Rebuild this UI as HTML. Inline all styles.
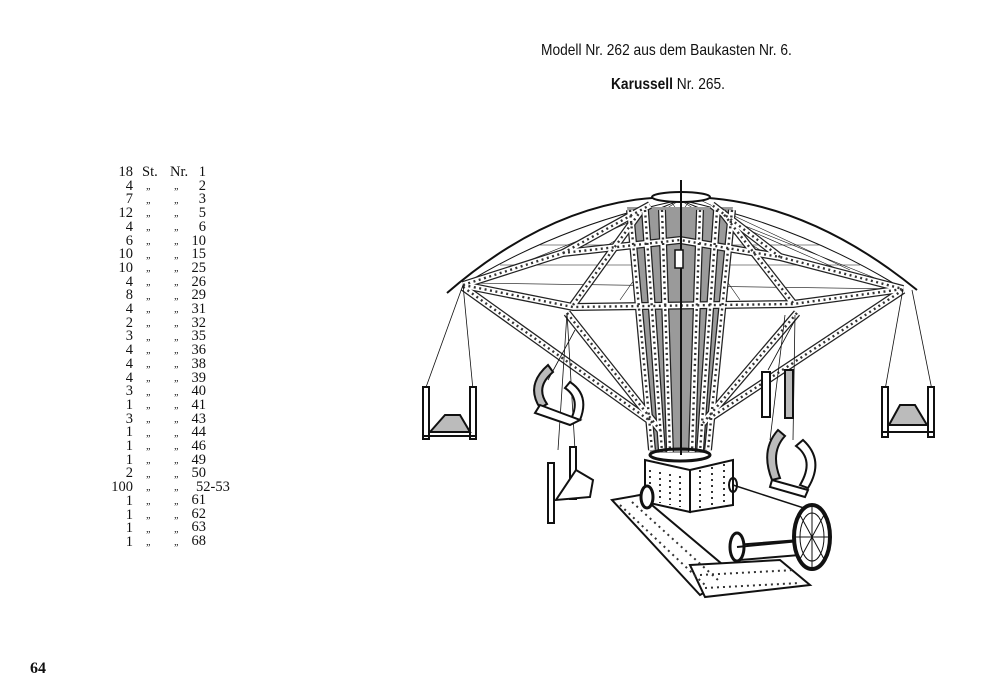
<!DOCTYPE html>
<html><head><meta charset="utf-8"><style>
html,body{margin:0;padding:0;background:#fff}
body{width:1000px;height:700px;position:relative;overflow:hidden;font-family:"Liberation Serif",serif;color:#111}
.t{position:absolute;white-space:nowrap;font-family:"Liberation Sans",sans-serif;font-size:16px;transform-origin:0 0;transform:scaleX(0.86)}
.r{position:absolute;font-size:14.5px;line-height:13.7px;white-space:nowrap}
.d{position:absolute;font-size:10px;line-height:13.7px;white-space:nowrap;font-style:italic}
</style></head><body>
<div class="t" style="left:541px;top:42px">Modell Nr. 262 aus dem Baukasten Nr. 6.</div>
<div class="t" style="left:611px;top:76px"><b>Karussell</b> Nr. 265.</div>
<div style="position:absolute;left:30px;top:660px;font-weight:bold;font-size:16px">64</div>

<div class="r" style="left:96px;top:166px;width:37px;text-align:right">18<br>4<br>7<br>12<br>4<br>6<br>10<br>10<br>4<br>8<br>4<br>2<br>3<br>4<br>4<br>4<br>3<br>1<br>3<br>1<br>1<br>1<br>2<br>100<br>1<br>1<br>1<br>1</div>
<div class="r" style="left:142px;top:166px">St.</div>
<div class="d" style="left:146px;top:180px">„<br>„<br>„<br>„<br>„<br>„<br>„<br>„<br>„<br>„<br>„<br>„<br>„<br>„<br>„<br>„<br>„<br>„<br>„<br>„<br>„<br>„<br>„<br>„<br>„<br>„<br>„</div>
<div class="r" style="left:170px;top:166px">Nr.</div>
<div class="d" style="left:174px;top:180px">„<br>„<br>„<br>„<br>„<br>„<br>„<br>„<br>„<br>„<br>„<br>„<br>„<br>„<br>„<br>„<br>„<br>„<br>„<br>„<br>„<br>„<br>„<br>„<br>„<br>„<br>„</div>
<div class="r" style="left:190px;top:166px;width:16px;text-align:right">1<br>2<br>3<br>5<br>6<br>10<br>15<br>25<br>26<br>29<br>31<br>32<br>35<br>36<br>38<br>39<br>40<br>41<br>43<br>44<br>46<br>49<br>50</div>
<div class="r" style="left:196px;top:481px">52-53</div>
<div class="r" style="left:190px;top:494px;width:16px;text-align:right">61<br>62<br>63<br>68</div>

<svg width="1000" height="700" style="position:absolute;left:0;top:0" fill="none" stroke="#111">
<defs>
<g id="strips">
 <path d="M463,285 L573,307 L793,304 L903,289"/>
 <path d="M463,285 L563,253 L680,240 L780,257 L903,289"/>
 <path d="M463,287 L653,423"/><path d="M903,290 L707,420"/>
 <path d="M567,313 L660,430"/><path d="M797,313 L703,423"/>
 <path d="M573,305 L640,212"/><path d="M793,303 L722,212"/>
 <path d="M563,253 L650,205"/><path d="M780,257 L712,205"/>
 <path d="M630,210 L652,450"/><path d="M645,210 L662,452"/><path d="M662,210 L670,452"/>
 <path d="M700,210 L692,452"/><path d="M717,210 L700,452"/><path d="M732,210 L708,450"/>
</g>
</defs>
<!-- dome -->
<path d="M447,293 Q560,195 680,197 Q800,195 917,290" stroke-width="2"/>
<path d="M463,285 Q560,225 680,200 M903,289 Q800,225 680,200" stroke-width="1"/>
<g stroke-width="0.6">
<path d="M480,280 L680,200 M520,270 L680,200 M600,250 L680,200 M760,250 L680,200 M840,270 L680,200 M880,280 L680,200 M700,200 L850,270 M690,200 L620,300 M670,200 L740,300"/>
<path d="M470,283 L900,289 M500,265 L860,265 M540,245 L820,245"/>
</g>
<path d="M627,207 L733,207 L707,453 L650,453 Z" fill="#9a9a9a" stroke="none"/>
<use href="#strips" stroke-width="8" stroke="#222"/>
<use href="#strips" stroke-width="5.5" stroke="#fff"/>
<use href="#strips" stroke-width="2.4" stroke="#333" stroke-dasharray="2 3.5"/>
<!-- hub and shaft -->
<ellipse cx="681" cy="197" rx="29" ry="5" fill="#fff" stroke-width="2"/>
<line x1="681" y1="180" x2="681" y2="455" stroke-width="2"/>
<rect x="675" y="250" width="8" height="18" fill="#fff" stroke-width="1.5"/>
<ellipse cx="680" cy="455" rx="30" ry="6" stroke-width="3"/>
<!-- hangers -->
<g stroke-width="0.8">
<path d="M463,285 L425,390 M463,285 L473,390 M903,289 L885,390 M912,290 L932,390"/>
<path d="M567,313 L558,450 M567,313 L575,450 M575,330 L548,380 M795,315 L793,440 M785,315 L770,440 M795,320 L768,370"/>
</g>
<!-- gondolas -->
<g stroke-width="2" fill="#fff">
<rect x="423" y="387" width="6" height="52"/><rect x="470" y="387" width="6" height="52"/>
<path d="M430,432 L445,415 L460,415 L470,432 Z" fill="#bbb"/><line x1="423" y1="436" x2="476" y2="436"/>
<rect x="882" y="387" width="6" height="50"/><rect x="928" y="387" width="6" height="50"/>
<path d="M889,425 L900,405 L915,405 L927,425 Z" fill="#bbb"/><line x1="882" y1="432" x2="934" y2="432"/>
<path d="M548,365 Q525,385 540,408 L547,404 Q535,387 553,372 Z" fill="#bbb"/>
<path d="M570,382 Q590,395 580,420 L572,417 Q580,398 565,388 Z"/>
<path d="M540,405 L580,420 L570,425 L535,413 Z"/>
<rect x="548" y="463" width="6" height="60"/><rect x="570" y="447" width="6" height="52"/>
<path d="M576,470 L593,480 L590,497 L556,500 Z"/>
<rect x="762" y="372" width="8" height="45"/><rect x="785" y="370" width="8" height="48" fill="#bbb"/>
<path d="M778,430 Q760,450 772,480 L780,478 Q770,452 785,436 Z" fill="#bbb"/>
<path d="M803,440 Q825,460 808,488 L800,485 Q815,460 796,446 Z"/>
<path d="M772,480 L808,490 L805,497 L770,487 Z"/>
</g>
<!-- base box -->
<g stroke-width="2" fill="#fff">
<path d="M645,460 L690,470 L690,512 L645,502 Z"/>
<path d="M690,470 L733,460 L733,505 L690,512 Z"/>
<path d="M612,500 L640,495 L735,575 L700,595 Z"/>
<path d="M690,565 L780,560 L810,585 L705,597 Z"/>
<path d="M735,545 L800,540 L800,555 L740,560 Z"/>
</g>
<g stroke="#333" stroke-width="2" stroke-dasharray="2 4">
<path d="M650,470 L650,500 M660,472 L660,503 M670,474 L670,505 M680,476 L680,507 M700,470 L700,508 M712,467 L712,506 M724,464 L724,505"/>
<path d="M620,505 L705,585 M632,502 L718,580 M700,575 L795,570 M705,588 L800,583"/>
</g>
<ellipse cx="647" cy="497" rx="6" ry="11" fill="#fff" stroke-width="3"/>
<ellipse cx="737" cy="547" rx="7" ry="14" fill="#fff" stroke-width="3"/>
<ellipse cx="733" cy="485" rx="4" ry="7" stroke-width="2"/>
<line x1="733" y1="485" x2="810" y2="510" stroke-width="1.5"/>
<line x1="737" y1="547" x2="810" y2="540" stroke-width="2"/>
<ellipse cx="812" cy="537" rx="18" ry="32" fill="#fff" stroke-width="4"/>
<ellipse cx="812" cy="537" rx="12" ry="24" stroke-width="1"/>
<path d="M812,505 L812,569 M796,537 L828,537 M800,515 L824,559 M824,515 L800,559" stroke-width="1"/>
</svg>
</body></html>
